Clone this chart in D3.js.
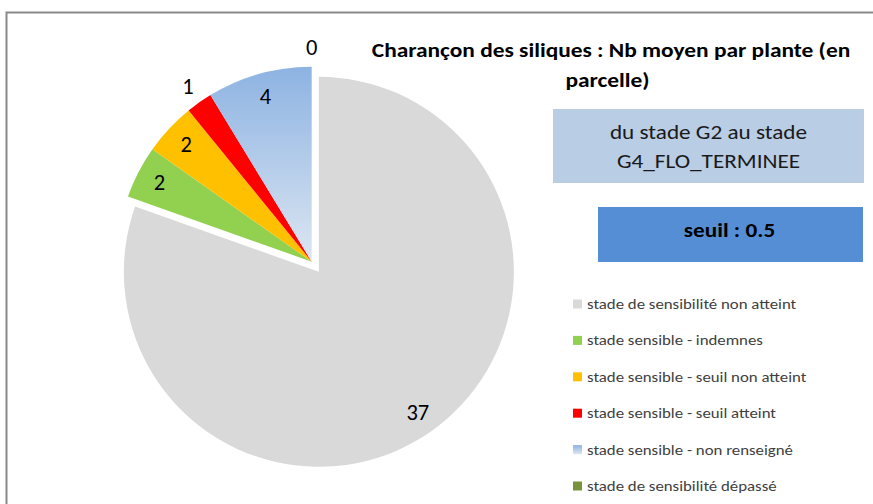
<!DOCTYPE html>
<html>
<head>
<meta charset="utf-8">
<script src="https://cdn.jsdelivr.net/npm/d3@7"></script>
<style>
  body { margin: 0; background: #fff; }
  svg { display: block; font-family: Carlito, "Liberation Sans Narrow", "Open Sans", sans-serif; }
</style>
</head>
<body>
<div id="chart"></div>
<script>
// categories, values and colours of the pie
const categories = [
    "stade de sensibilité non atteint",
    "stade sensible - indemnes",
    "stade sensible - seuil non atteint",
    "stade sensible - seuil atteint",
    "stade sensible - non renseigné",
    "stade de sensibilité dépassé"
];
const values = [37, 2, 2, 1, 4, 0];
const colors = ["#d9d9d9", "#92d050", "#ffc000", "#ff0000", "url(#blueGrad)", "#77933c"];
const titleLines = ["Charançon des siliques : Nb moyen par plante (en", "parcelle)"];
const periodLines = ["du stade G2 au stade", "G4_FLO_TERMINEE"];
const thresholdText = "seuil : 0.5";

const width = 873, height = 504;
// the reference text is a little wider than plain Calibri
const stretch = 1.16;

let svg = d3.select("#chart").append("svg")
    .attr("width", width)
    .attr("height", height);

let defs = svg.append("defs");
let grad = defs.append("linearGradient")
    .attr("id", "blueGrad")
    .attr("x1", 0).attr("y1", 0).attr("x2", 0).attr("y2", 1);
grad.append("stop").attr("offset", "0%").attr("stop-color", "#8db3e2");
grad.append("stop").attr("offset", "100%").attr("stop-color", "#dce6f2");

function place(x, y, sx) {
    return "translate(" + x + "," + y + ") scale(" + sx + ",1)";
}

// outer frame
svg.append("path")
    .attr("d", "M6.5," + height + "V12.5H" + width)
    .attr("fill", "none")
    .attr("stroke", "#898989")
    .attr("stroke-width", 2);

// pie
let radius = 195;
let cx = 311.7, cy = 261.7;
let explode = 12.4;

let pie = d3.pie().sort(null).value(function(d) { return d; });
let arcs = pie(values);
let arc = d3.arc().innerRadius(0).outerRadius(radius);

let pieG = svg.append("g")
    .attr("transform", "translate(" + cx + "," + cy + ")");

function offset(d, r) {
    let a = (d.startAngle + d.endAngle) / 2;
    return [Math.sin(a) * r, -Math.cos(a) * r];
}

pieG.selectAll("path.slice")
    .data(arcs)
    .enter()
    .append("path")
    .attr("class", "slice")
    .attr("d", arc)
    .attr("fill", function(d, i) { return colors[i]; })
    .attr("transform", function(d, i) {
        let o = offset(d, i === 0 ? explode : 0);
        return "translate(" + o[0] + "," + o[1] + ")";
    });

// data labels: small slices go outside
pieG.selectAll("text.lbl")
    .data(arcs)
    .enter()
    .append("text")
    .attr("class", "lbl")
    .attr("text-anchor", "middle")
    .attr("dominant-baseline", "central")
    .attr("font-size", 22.5)
    .attr("fill", "#000")
    .attr("transform", function(d, i) {
        let small = (d.endAngle - d.startAngle) < 0.15;
        let r = small ? radius * 1.1 : radius * 0.88;
        let o = offset(d, r);
        if (i === 0) {
            let e = offset(d, explode);
            o = [o[0] + e[0], o[1] + e[1]];
        }
        return "translate(" + o[0] + "," + o[1] + ")";
    })
    .text(function(d) { return d.data; });

// title
svg.append("g")
    .selectAll("text")
    .data(titleLines)
    .enter()
    .append("text")
    .attr("transform", function(d, i) { return place(i === 0 ? 611 : 607.5, 57 + i * 30, 1.2); })
    .attr("text-anchor", "middle")
    .attr("font-size", 19.5)
    .attr("font-weight", "bold")
    .attr("fill", "#000")
    .text(function(d) { return d; });

// period box
svg.append("rect")
    .attr("x", 553).attr("y", 109)
    .attr("width", 311).attr("height", 74)
    .attr("fill", "#b9cde5");
svg.append("g")
    .selectAll("text")
    .data(periodLines)
    .enter()
    .append("text")
    .attr("transform", function(d, i) { return place(708.5, 139 + i * 28.5, stretch); })
    .attr("text-anchor", "middle")
    .attr("font-size", 20)
    .attr("fill", "#1a1a1a")
    .text(function(d) { return d; });

// threshold box
svg.append("rect")
    .attr("x", 598).attr("y", 207)
    .attr("width", 265).attr("height", 55)
    .attr("fill", "#558ed5");
svg.append("text")
    .attr("transform", place(729.5, 237, stretch))
    .attr("text-anchor", "middle")
    .attr("font-size", 20)
    .attr("font-weight", "bold")
    .attr("fill", "#000")
    .text(thresholdText);

// legend
let legendY = d3.scalePoint()
    .domain(categories)
    .range([304, 486]);

let legend = svg.append("g")
    .selectAll("g")
    .data(categories)
    .enter()
    .append("g")
    .attr("transform", function(d) { return "translate(573," + legendY(d) + ")"; });

legend.append("rect")
    .attr("x", 0).attr("y", -4.5)
    .attr("width", 9).attr("height", 9)
    .attr("fill", function(d, i) { return colors[i]; });

legend.append("text")
    .attr("transform", place(14, 0, stretch))
    .attr("dominant-baseline", "central")
    .attr("font-size", 14.5)
    .attr("fill", "#404040")
    .text(function(d) { return d; });
</script>
</body>
</html>
